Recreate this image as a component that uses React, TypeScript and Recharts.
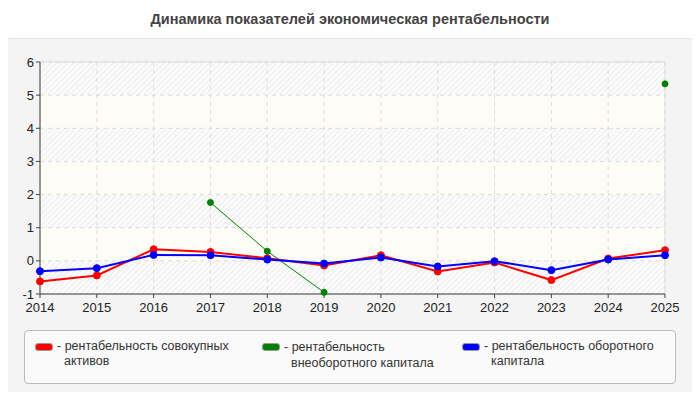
import { LineChart, Line, XAxis, YAxis, CartesianGrid, ReferenceArea } from "recharts";

const years = [2014, 2015, 2016, 2017, 2018, 2019, 2020, 2021, 2022, 2023, 2024, 2025];
const totalAssets = [-0.62, -0.44, 0.35, 0.27, 0.08, -0.14, 0.17, -0.32, -0.05, -0.58, 0.07, 0.32];
const fixedCapital: (number | null)[] = [null, null, null, 1.76, 0.29, -0.95, null, null, null, null, null, 5.34];
const workingCapital = [-0.31, -0.22, 0.18, 0.17, 0.04, -0.08, 0.1, -0.17, -0.01, -0.28, 0.04, 0.17];
const yTicks = [-1, 0, 1, 2, 3, 4, 5, 6];

const SERIES = [
  { key: "totalAssets", name: "рентабельность совокупных активов", lines: ["рентабельность совокупных", "активов"], color: "#ff0000", width: 2, r: 3.5 },
  { key: "fixedCapital", name: "рентабельность внеоборотного капитала", lines: ["рентабельность", "внеоборотного капитала"], color: "#008000", width: 1, r: 3 },
  { key: "workingCapital", name: "рентабельность оборотного капитала", lines: ["рентабельность оборотного", "капитала"], color: "#0000ff", width: 2, r: 3.5 },
];

const FONT = "'Liberation Sans', Arial, sans-serif";
const tickStyle = { fontSize: 13, fill: "#222", fontFamily: FONT };

export default function App() {
  const data = years.map((year, i) => ({
    year,
    totalAssets: totalAssets[i],
    fixedCapital: fixedCapital[i],
    workingCapital: workingCapital[i],
  }));

  return (
    <div style={{ position: "relative", width: 700, height: 400, margin: -8, background: "#fff", fontFamily: FONT }}>
      <div style={{ position: "absolute", top: 11, left: 0, width: 700, textAlign: "center", fontSize: 14.5, fontWeight: "bold", color: "#444" }}>
        Динамика показателей экономическая рентабельности
      </div>
      <div style={{ position: "absolute", left: 5, top: 38, width: 688, height: 356, background: "#f4f4f4", border: "1px solid #e2e2e2", borderRadius: 6 }} />
      <div style={{ position: "absolute", left: 0, top: 0 }}>
        <LineChart width={700} height={330} data={data} margin={{ top: 62, right: 35, left: 8, bottom: 14 }}>
          <defs>
            <pattern id="hatch" width="4" height="4" patternUnits="userSpaceOnUse" patternTransform="rotate(45)">
              <rect width="4" height="4" fill="#fbfbfb" />
              <line x1="0" y1="0" x2="0" y2="4" stroke="#ededed" strokeWidth="2" />
            </pattern>
          </defs>
          <CartesianGrid stroke="#dcdcdc" strokeDasharray="4 4" horizontalFill={["url(#hatch)", "#fdfdf6"]} fillOpacity={1} />
          <ReferenceArea y1={-1} y2={6} fill="none" stroke="#dddddd" strokeWidth={1} />
          <XAxis
            dataKey="year"
            tick={tickStyle}
            tickLine={{ stroke: "#444" }}
            tickSize={4}
            tickMargin={5}
            axisLine={{ stroke: "#444" }}
            interval={0}
            height={22}
          />
          <YAxis
            domain={[-1, 6]}
            ticks={yTicks}
            tick={tickStyle}
            tickLine={{ stroke: "#444" }}
            tickSize={4}
            axisLine={{ stroke: "#444" }}
            width={32}
          />
          {SERIES.map((s) => (
            <Line
              key={s.key}
              type="linear"
              dataKey={s.key}
              name={s.name}
              stroke={s.color}
              strokeWidth={s.width}
              dot={{ r: s.r, fill: s.color, stroke: s.color, strokeWidth: 1 }}
              activeDot={false}
              isAnimationActive={false}
            />
          ))}
        </LineChart>
      </div>
      <div style={{ position: "absolute", left: 24, top: 330, width: 650, height: 52, background: "#fafafa", border: "1px solid #bbb", borderRadius: 4 }}>
        {SERIES.map((s, i) => (
          <div key={s.key} style={{ position: "absolute", left: [10, 237, 437][i], top: 8, display: "flex", fontSize: 12.5, color: "#333", lineHeight: i === 1 ? "16px" : "14.5px" }}>
            <div style={{ width: 16, height: 6, background: s.color, border: "1px solid #999", borderRadius: 3, marginTop: 4, marginRight: 4, flexShrink: 0 }} />
            <div>
              <div>- {s.lines[0]}</div>
              <div style={{ paddingLeft: 7 }}>{s.lines[1]}</div>
            </div>
          </div>
        ))}
      </div>
    </div>
  );
}
